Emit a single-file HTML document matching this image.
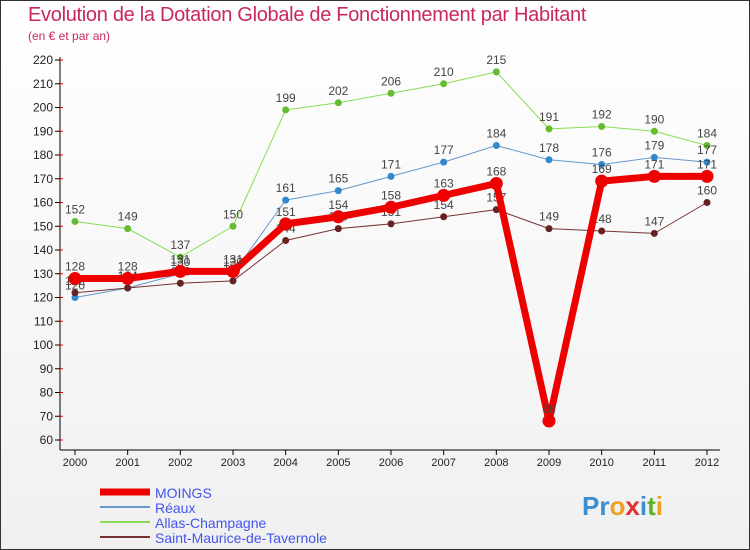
<!DOCTYPE html>
<html><head><meta charset="utf-8"><style>
body{margin:0;width:750px;height:550px;overflow:hidden;font-family:"Liberation Sans",sans-serif}
#w{position:relative;width:748px;height:548px;border:1px solid #333;background:linear-gradient(#ffffff,#f0f0f0)}
.t{position:absolute;left:27px;top:3px;font-size:20px;color:#c8285a;letter-spacing:-0.3px}
.s{position:absolute;left:27px;top:28px;font-size:12px;color:#c8285a}
</style></head><body>
<div id="w">
<div class="t">Evolution de la Dotation Globale de Fonctionnement par Habitant</div>
<div class="s">(en € et par an)</div>
<svg id="c" width="750" height="550" style="position:absolute;left:-1px;top:-1px"></svg>
</div>
<script>
const years=[2000,2001,2002,2003,2004,2005,2006,2007,2008,2009,2010,2011,2012];
const moings=[128,128,131,131,151,154,158,163,168,68,169,171,171];
const reaux=[120,124,130,130,161,165,171,177,184,178,176,179,177];
const allas=[152,149,137,150,199,202,206,210,215,191,192,190,184];
const stmaurice=[122,124,126,127,144,149,151,154,157,149,148,147,160];
const yTicks=[60,70,80,90,100,110,120,130,140,150,160,170,180,190,200,210,220];
const X=i=>75+i*(707-75)/12;
const Y=v=>440-(v-60)*380/160;
const svg=document.getElementById('c');const NS='http://www.w3.org/2000/svg';
function el(t,a,txt){const e=document.createElementNS(NS,t);for(const k in a)e.setAttribute(k,a[k]);if(txt!=null)e.textContent=txt;svg.appendChild(e);return e;}
let e;
e=el('line',{x1:60,y1:57,x2:60,y2:450,stroke:'#000'});


e=el('line',{x1:60,y1:450,x2:720,y2:450,stroke:'#000'});


yTicks.forEach(v=>{
 e=el('line',{x1:55,y1:Y(v),x2:60,y2:Y(v),stroke:'#000'});
 
 
 e=el('line',{x1:60,y1:Y(v),x2:63,y2:Y(v),stroke:'#e00'});
 
 
 e=el('text',{x:53,y:Y(v)+4,'text-anchor':'end','font-size':12,fill:'#222'},v);
 
 
});
years.forEach((y,i)=>{
 e=el('line',{x1:X(i),y1:450,x2:X(i),y2:455,stroke:'#000'});
 
 
 e=el('text',{x:X(i),y:466,'text-anchor':'middle','font-size':11,fill:'#222'},y);
 
 
});
const series=[
 {d:allas,c:'#88dd55',dot:'#66bb33',w:1,r:3.5,n:'allas-champagne'},
 {d:reaux,c:'#6699cc',dot:'#3388cc',w:1,r:3.5,n:'reaux'},
 {d:stmaurice,c:'#773333',dot:'#662222',w:1,r:3.5,n:'saint-maurice'},
 {d:moings,c:'#ee0000',dot:'#ee0000',w:7,r:6.5,n:'moings'}];
series.forEach(s=>{
 e=el('polyline',{points:s.d.map((v,i)=>X(i)+','+Y(v)).join(' '),fill:'none',stroke:s.c,'stroke-width':s.w,'stroke-linejoin':'round'});
 
 
 s.d.forEach((v,i)=>{
  e=el('circle',{cx:X(i),cy:Y(v),r:s.r,fill:s.dot});
  
  
  e=el('text',{x:X(i),y:Y(v)-8,'text-anchor':'middle','font-size':12,fill:'#444'},v);
  
  
 });
});
const leg=[['MOINGS','#ee0000',7],['Réaux','#6699cc',2],['Allas-Champagne','#88dd55',2],['Saint-Maurice-de-Tavernole','#773333',2]];
leg.forEach((l,i)=>{
 const y=492+i*15;
 e=el('line',{x1:100,y1:y,x2:150,y2:y,stroke:l[1],'stroke-width':l[2]});
 
 
 e=el('text',{x:155,y:y+6,'font-size':14,fill:'#4455ee'},l[0]);
 
 
});
e=el('text',{x:582,y:515,'font-size':26,'font-weight':'bold',fill:'#3a8fd0'});


[['Pr','#3a8fd0'],['o','#f0a020'],['x','#e03030'],['i','#3a8fd0'],['t','#60b030'],['i','#f0a020']].forEach(p=>{const ts=document.createElementNS(NS,'tspan');ts.setAttribute('fill',p[1]);ts.textContent=p[0];e.appendChild(ts);});
</script>
</body></html>
